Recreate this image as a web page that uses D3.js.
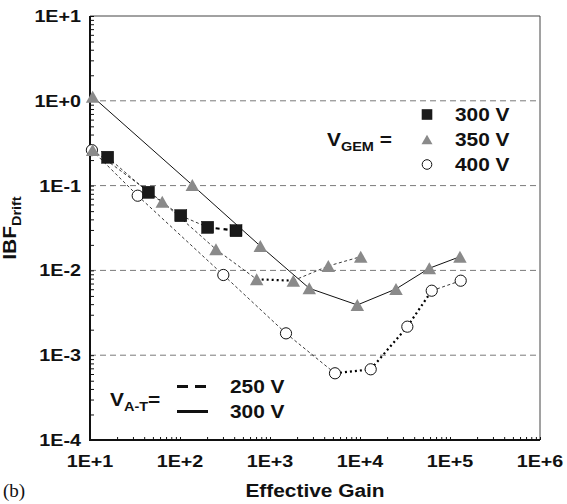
<!DOCTYPE html>
<html>
<head>
<meta charset="utf-8">
<script src="https://cdn.jsdelivr.net/npm/d3@7"></script>
<style>
  html, body { margin: 0; padding: 0; background: #fff; }
  svg { display: block; }
</style>
</head>
<body>
<div id="chart"></div>
<script>
// ---- data ----
const xTickValues = [1e1, 1e2, 1e3, 1e4, 1e5, 1e6];
const xTickLabels = ["1E+1", "1E+2", "1E+3", "1E+4", "1E+5", "1E+6"];
const yTickValues = [1e-4, 1e-3, 1e-2, 1e-1, 1e0, 1e1];
const yTickLabels = ["1E-4", "1E-3", "1E-2", "1E-1", "1E+0", "1E+1"];

// V_GEM = 300 V, V_A-T = 250 V (squares, dashed)
const gainSq300 = [15.7, 44.5, 102, 203, 419];
const ibfSq300  = [0.216, 0.0834, 0.0442, 0.0322, 0.0294];
// V_GEM = 350 V, V_A-T = 250 V (triangles, dashed)
const gainTri350d = [10.7, 63.5, 251, 711, 1815, 4446, 10190];
const ibfTri350d  = [0.263, 0.0646, 0.0177, 0.00785, 0.00757, 0.01127, 0.01452];
// V_GEM = 350 V, V_A-T = 300 V (triangles, solid)
const gainTri350s = [10.7, 137, 780, 2733, 9333, 25120, 58900, 129000];
const ibfTri350s  = [1.117, 0.1016, 0.0194, 0.00615, 0.00391, 0.00604, 0.0106, 0.0145];
// V_GEM = 400 V, V_A-T = 250 V (circles, dashed)
const gainCirc400 = [10.5, 33.9, 303, 1506, 5275, 13150, 33570, 62660, 131500];
const ibfCirc400  = [0.262, 0.076, 0.00883, 0.00181, 0.000612, 0.000682, 0.00217, 0.00576, 0.00756];

const gemLegend = ["300 V", "350 V", "400 V"];
const atLegend = ["250 V", "300 V"];

// ---- layout / style ----
const W = 567, H = 504;
const L = 90, R = 540, T = 16, B = 440;
const SX = 1.16; // horizontal stretch of the text in the reference
const FONT = "'Liberation Sans', Arial, Helvetica, sans-serif";

const svg = d3.select("#chart").append("svg").attr("width", W).attr("height", H);

const x = d3.scaleLog().domain([1e1, 1e6]).range([L, R]);
const y = d3.scaleLog().domain([1e-4, 1e1]).range([B, T]);

function stretchText(parent, px, py, str, size, anchor) {
  const g = parent.append("g").attr("transform", `translate(${px},${py}) scale(${SX},1)`);
  return g.append("text")
    .attr("x", 0).attr("y", 0)
    .attr("font-family", FONT).attr("font-weight", "bold")
    .attr("font-size", size).attr("text-anchor", anchor || "start")
    .attr("fill", "#111")
    .text(str);
}

// gridlines (dashed, at inner decades)
svg.append("g").selectAll("line")
  .data(yTickValues.slice(1, -1))
  .join("line")
  .attr("x1", L).attr("x2", R)
  .attr("y1", d => y(d)).attr("y2", d => y(d))
  .attr("stroke", "#7a7a7a").attr("stroke-width", 1)
  .attr("stroke-dasharray", "6,4");

// frame top & right
svg.append("line").attr("x1", L).attr("x2", R).attr("y1", T).attr("y2", T)
  .attr("stroke", "#444").attr("stroke-width", 1);
svg.append("line").attr("x1", R).attr("x2", R).attr("y1", T).attr("y2", B)
  .attr("stroke", "#444").attr("stroke-width", 1);

// minor ticks
const minorX = [];
for (let e = 1; e < 6; e++) for (let m = 1; m <= 9; m++) minorX.push(m * Math.pow(10, e));
minorX.push(1e6);
const minorY = [];
for (let e = -4; e < 1; e++) for (let m = 1; m <= 9; m++) minorY.push(m * Math.pow(10, e));
minorY.push(10);

const yAxis = d3.axisRight(y).tickValues(minorY).tickSize(4).tickFormat("");
const gy = svg.append("g").attr("transform", `translate(${L},0)`).call(yAxis);
gy.select(".domain").remove();
gy.selectAll(".tick line").attr("stroke", "#111").attr("stroke-width", 1);

const xAxis = d3.axisTop(x).tickValues(minorX).tickSize(3).tickFormat("");
const gx = svg.append("g").attr("transform", `translate(0,${B})`).call(xAxis);
gx.select(".domain").remove();
gx.selectAll(".tick line").attr("stroke", "#111").attr("stroke-width", 1);

// main axis lines
svg.append("line").attr("x1", L).attr("x2", L).attr("y1", T).attr("y2", B + 1)
  .attr("stroke", "#111").attr("stroke-width", 2);
svg.append("line").attr("x1", L - 1).attr("x2", R).attr("y1", B).attr("y2", B)
  .attr("stroke", "#111").attr("stroke-width", 2);

// tick labels
yTickValues.forEach((v, i) => {
  stretchText(svg, 81, y(v) + 6, yTickLabels[i], 17, "end");
});
xTickValues.forEach((v, i) => {
  stretchText(svg, x(v), 467, xTickLabels[i], 17, "middle");
});

// axis titles
stretchText(svg, 315, 497, "Effective Gain", 18, "middle");
{
  const g = svg.append("g").attr("transform", `translate(16,228) rotate(-90) scale(${SX},1)`);
  const t = g.append("text").attr("font-family", FONT).attr("font-weight", "bold")
    .attr("font-size", 18).attr("text-anchor", "middle").attr("fill", "#111");
  t.append("tspan").text("IBF");
  t.append("tspan").attr("font-size", 12.5).attr("dy", 5).text("Drift");
}
svg.append("text").attr("x", 3).attr("y", 497)
  .attr("font-family", "'Liberation Serif', 'Times New Roman', serif")
  .attr("font-size", 19).attr("fill", "#111").text("(b)");

// ---- lines ----
const thin = { stroke: "#3a3a3a", width: 1, dash: "3,2.5" };
const heavyDot = { stroke: "#000", width: 2.2, dash: "2,3" };
const heavyDash = { stroke: "#000", width: 2.2, dash: "4,4" };

function segLines(gains, vals, styles) {
  const segs = [];
  for (let i = 0; i < gains.length - 1; i++) {
    segs.push({ x1: gains[i], y1: vals[i], x2: gains[i + 1], y2: vals[i + 1], s: styles[i] });
  }
  svg.append("g").selectAll("line").data(segs).join("line")
    .attr("x1", d => x(d.x1)).attr("y1", d => y(d.y1))
    .attr("x2", d => x(d.x2)).attr("y2", d => y(d.y2))
    .attr("stroke", d => d.s.stroke).attr("stroke-width", d => d.s.width)
    .attr("stroke-dasharray", d => d.s.dash);
}

segLines(gainCirc400, ibfCirc400, [thin, thin, thin, thin, heavyDot, heavyDot, heavyDot, thin]);
segLines(gainTri350d, ibfTri350d, [thin, thin, thin, heavyDot, thin, thin]);
segLines(gainSq300, ibfSq300, [thin, thin, thin, heavyDash]);

const lineGen = d3.line().x(d => x(d[0])).y(d => y(d[1]));
svg.append("path")
  .attr("d", lineGen(d3.zip(gainTri350s, ibfTri350s)))
  .attr("fill", "none").attr("stroke", "#111").attr("stroke-width", 1);

// ---- markers ----
function triPath(w, h) {
  return `M0,${-h / 2}L${w / 2},${h / 2}L${-w / 2},${h / 2}Z`;
}
const triColor = "#8a8a8a";

svg.append("g").selectAll("circle").data(d3.zip(gainCirc400, ibfCirc400)).join("circle")
  .attr("cx", d => x(d[0])).attr("cy", d => y(d[1])).attr("r", 5.6)
  .attr("fill", "#fff").attr("stroke", "#111").attr("stroke-width", 1);

svg.append("g").selectAll("path").data(d3.zip(gainTri350d, ibfTri350d).concat(d3.zip(gainTri350s, ibfTri350s))).join("path")
  .attr("transform", d => `translate(${x(d[0])},${y(d[1])})`)
  .attr("d", triPath(13.5, 12)).attr("fill", triColor);

svg.append("g").selectAll("rect").data(d3.zip(gainSq300, ibfSq300)).join("rect")
  .attr("x", d => x(d[0]) - 6).attr("y", d => y(d[1]) - 6)
  .attr("width", 12).attr("height", 12)
  .attr("fill", "#1a1a1a").attr("stroke", "#000").attr("stroke-width", 0.5);

// ---- legend: V_GEM ----
{
  const g = svg.append("g").attr("transform", `translate(327,146) scale(${SX},1)`);
  const t = g.append("text").attr("font-family", FONT).attr("font-weight", "bold")
    .attr("font-size", 18).attr("fill", "#111");
  t.append("tspan").text("V");
  t.append("tspan").attr("font-size", 12.5).attr("dy", 5).text("GEM");
  t.append("tspan").attr("dy", -5).text(" =");

  const ly = [114.5, 139.5, 164.5];
  svg.append("rect").attr("x", 427 - 5.3).attr("y", ly[0] - 5.3).attr("width", 10.6).attr("height", 10.6)
    .attr("fill", "#1a1a1a");
  svg.append("path").attr("transform", `translate(427,${ly[1]})`).attr("d", triPath(11, 9.5)).attr("fill", triColor);
  svg.append("circle").attr("cx", 427).attr("cy", ly[2]).attr("r", 4.8)
    .attr("fill", "#fff").attr("stroke", "#111").attr("stroke-width", 1);
  gemLegend.forEach((s, i) => stretchText(svg, 455, ly[i] + 6.5, s, 18, "start"));
}

// ---- legend: V_A-T ----
{
  const g = svg.append("g").attr("transform", `translate(110,406) scale(${SX},1)`);
  const t = g.append("text").attr("font-family", FONT).attr("font-weight", "bold")
    .attr("font-size", 18).attr("fill", "#111");
  t.append("tspan").text("V");
  t.append("tspan").attr("font-size", 12.5).attr("dy", 5).text("A-T");
  t.append("tspan").attr("dy", -5).text("=");

  svg.append("line").attr("x1", 177).attr("x2", 206).attr("y1", 386.5).attr("y2", 386.5)
    .attr("stroke", "#111").attr("stroke-width", 3).attr("stroke-dasharray", "11,7");
  svg.append("line").attr("x1", 177).attr("x2", 208).attr("y1", 411.5).attr("y2", 411.5)
    .attr("stroke", "#111").attr("stroke-width", 3);
  atLegend.forEach((s, i) => stretchText(svg, 230, [393, 418][i], s, 18, "start"));
}
</script>
</body>
</html>
